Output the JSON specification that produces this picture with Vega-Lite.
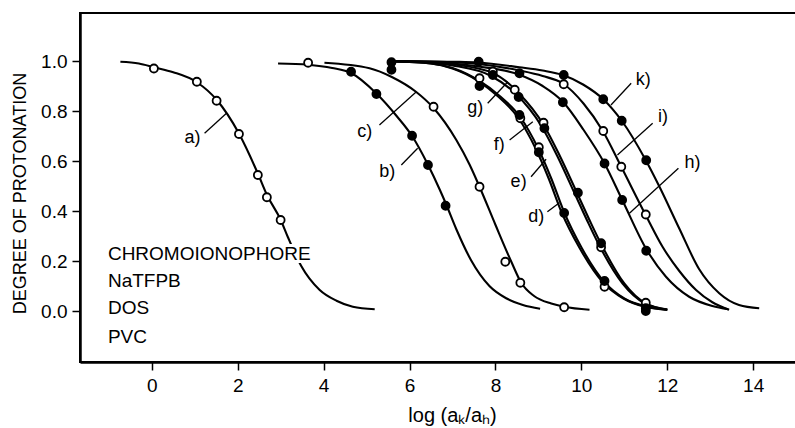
{
  "$schema": "https://vega.github.io/schema/vega-lite/v6.json",
  "width": 717,
  "height": 349,
  "autosize": {"type": "none"},
  "padding": {"left": 80, "top": 13, "right": 0, "bottom": 66},
  "background": "white",
  "config": {
    "view": {"stroke": "black", "strokeWidth": 2},
    "axis": {
      "grid": false,
      "domainColor": "black",
      "domainWidth": 2.5,
      "tickColor": "black",
      "tickWidth": 1.5,
      "tickSize": 8,
      "labelFont": "Liberation Sans",
      "labelFontSize": 19,
      "labelColor": "black",
      "titleFont": "Liberation Sans",
      "titleFontSize": 20,
      "titleFontWeight": "normal",
      "titleColor": "black"
    }
  },
  "datasets": {
    "curves": [
      {"curve": "a", "x": -0.73, "y": 0.997}, {"curve": "a", "x": -0.3, "y": 0.99}, {"curve": "a", "x": 0.05, "y": 0.975}, {"curve": "a", "x": 0.5, "y": 0.955}, {"curve": "a", "x": 1.05, "y": 0.915}, {"curve": "a", "x": 1.51, "y": 0.845}, {"curve": "a", "x": 2.03, "y": 0.71}, {"curve": "a", "x": 2.47, "y": 0.55}, {"curve": "a", "x": 2.68, "y": 0.465}, {"curve": "a", "x": 3.0, "y": 0.365}, {"curve": "a", "x": 3.17, "y": 0.295}, {"curve": "a", "x": 3.48, "y": 0.18}, {"curve": "a", "x": 3.91, "y": 0.084}, {"curve": "a", "x": 4.3, "y": 0.041}, {"curve": "a", "x": 4.68, "y": 0.017}, {"curve": "a", "x": 5.19, "y": 0.007},
      {"curve": "b", "x": 2.94, "y": 0.99}, {"curve": "b", "x": 3.64, "y": 0.985}, {"curve": "b", "x": 4.2, "y": 0.972}, {"curve": "b", "x": 4.64, "y": 0.952}, {"curve": "b", "x": 5.23, "y": 0.87}, {"curve": "b", "x": 5.7, "y": 0.78}, {"curve": "b", "x": 6.06, "y": 0.7}, {"curve": "b", "x": 6.43, "y": 0.585}, {"curve": "b", "x": 6.7, "y": 0.487}, {"curve": "b", "x": 6.85, "y": 0.428}, {"curve": "b", "x": 7.09, "y": 0.327}, {"curve": "b", "x": 7.43, "y": 0.204}, {"curve": "b", "x": 7.86, "y": 0.1}, {"curve": "b", "x": 8.25, "y": 0.051}, {"curve": "b", "x": 8.64, "y": 0.024}, {"curve": "b", "x": 9.04, "y": 0.009},
      {"curve": "c", "x": 4.02, "y": 0.993}, {"curve": "c", "x": 5.07, "y": 0.971}, {"curve": "c", "x": 5.6, "y": 0.935}, {"curve": "c", "x": 6.15, "y": 0.877}, {"curve": "c", "x": 6.56, "y": 0.812}, {"curve": "c", "x": 7.09, "y": 0.684}, {"curve": "c", "x": 7.4, "y": 0.585}, {"curve": "c", "x": 7.63, "y": 0.497}, {"curve": "c", "x": 8.0, "y": 0.345}, {"curve": "c", "x": 8.37, "y": 0.197}, {"curve": "c", "x": 8.6, "y": 0.113}, {"curve": "c", "x": 8.9, "y": 0.06}, {"curve": "c", "x": 9.3, "y": 0.03}, {"curve": "c", "x": 9.6, "y": 0.017}, {"curve": "c", "x": 10.19, "y": 0.005},
      {"curve": "d", "x": 5.6, "y": 0.998}, {"curve": "d", "x": 6.5, "y": 0.99}, {"curve": "d", "x": 7.0, "y": 0.972}, {"curve": "d", "x": 7.63, "y": 0.92}, {"curve": "d", "x": 8.1, "y": 0.86}, {"curve": "d", "x": 8.56, "y": 0.78}, {"curve": "d", "x": 9.01, "y": 0.645}, {"curve": "d", "x": 9.3, "y": 0.53}, {"curve": "d", "x": 9.6, "y": 0.395}, {"curve": "d", "x": 10.0, "y": 0.255}, {"curve": "d", "x": 10.54, "y": 0.115}, {"curve": "d", "x": 11.0, "y": 0.05}, {"curve": "d", "x": 11.5, "y": 0.018}, {"curve": "d", "x": 12.0, "y": 0.005},
      {"curve": "e", "x": 5.6, "y": 0.998}, {"curve": "e", "x": 6.5, "y": 0.99}, {"curve": "e", "x": 7.0, "y": 0.97}, {"curve": "e", "x": 7.6, "y": 0.92}, {"curve": "e", "x": 8.05, "y": 0.86}, {"curve": "e", "x": 8.5, "y": 0.78}, {"curve": "e", "x": 8.95, "y": 0.645}, {"curve": "e", "x": 9.24, "y": 0.53}, {"curve": "e", "x": 9.54, "y": 0.395}, {"curve": "e", "x": 9.95, "y": 0.255}, {"curve": "e", "x": 10.5, "y": 0.115}, {"curve": "e", "x": 10.98, "y": 0.05}, {"curve": "e", "x": 11.5, "y": 0.016}, {"curve": "e", "x": 12.0, "y": 0.005},
      {"curve": "f", "x": 5.6, "y": 0.999}, {"curve": "f", "x": 6.5, "y": 0.995}, {"curve": "f", "x": 7.0, "y": 0.987}, {"curve": "f", "x": 7.94, "y": 0.952}, {"curve": "f", "x": 8.54, "y": 0.872}, {"curve": "f", "x": 9.13, "y": 0.742}, {"curve": "f", "x": 9.5, "y": 0.62}, {"curve": "f", "x": 9.9, "y": 0.472}, {"curve": "f", "x": 10.2, "y": 0.36}, {"curve": "f", "x": 10.46, "y": 0.268}, {"curve": "f", "x": 11.0, "y": 0.11}, {"curve": "f", "x": 11.5, "y": 0.03}, {"curve": "f", "x": 12.0, "y": 0.006},
      {"curve": "g", "x": 5.6, "y": 0.999}, {"curve": "g", "x": 6.5, "y": 0.993}, {"curve": "g", "x": 7.0, "y": 0.982}, {"curve": "g", "x": 7.9, "y": 0.94}, {"curve": "g", "x": 8.48, "y": 0.868}, {"curve": "g", "x": 9.07, "y": 0.74}, {"curve": "g", "x": 9.44, "y": 0.62}, {"curve": "g", "x": 9.84, "y": 0.472}, {"curve": "g", "x": 10.14, "y": 0.36}, {"curve": "g", "x": 10.4, "y": 0.268}, {"curve": "g", "x": 10.96, "y": 0.11}, {"curve": "g", "x": 11.48, "y": 0.03}, {"curve": "g", "x": 12.0, "y": 0.005},
      {"curve": "h", "x": 5.6, "y": 1.0}, {"curve": "h", "x": 7.0, "y": 0.99}, {"curve": "h", "x": 7.6, "y": 0.978}, {"curve": "h", "x": 8.56, "y": 0.945}, {"curve": "h", "x": 9.1, "y": 0.9}, {"curve": "h", "x": 9.57, "y": 0.837}, {"curve": "h", "x": 10.05, "y": 0.725}, {"curve": "h", "x": 10.54, "y": 0.59}, {"curve": "h", "x": 10.95, "y": 0.445}, {"curve": "h", "x": 11.52, "y": 0.245}, {"curve": "h", "x": 11.97, "y": 0.137}, {"curve": "h", "x": 12.51, "y": 0.057}, {"curve": "h", "x": 13.05, "y": 0.02}, {"curve": "h", "x": 13.42, "y": 0.007},
      {"curve": "i", "x": 5.6, "y": 1.0}, {"curve": "i", "x": 7.0, "y": 0.995}, {"curve": "i", "x": 7.6, "y": 0.988}, {"curve": "i", "x": 8.56, "y": 0.962}, {"curve": "i", "x": 9.1, "y": 0.94}, {"curve": "i", "x": 9.57, "y": 0.91}, {"curve": "i", "x": 10.05, "y": 0.83}, {"curve": "i", "x": 10.5, "y": 0.72}, {"curve": "i", "x": 10.92, "y": 0.58}, {"curve": "i", "x": 11.5, "y": 0.383}, {"curve": "i", "x": 11.89, "y": 0.257}, {"curve": "i", "x": 12.28, "y": 0.16}, {"curve": "i", "x": 12.67, "y": 0.084}, {"curve": "i", "x": 13.05, "y": 0.035}, {"curve": "i", "x": 13.44, "y": 0.005},
      {"curve": "k", "x": 5.6, "y": 1.0}, {"curve": "k", "x": 7.0, "y": 0.997}, {"curve": "k", "x": 7.6, "y": 0.994}, {"curve": "k", "x": 8.56, "y": 0.975}, {"curve": "k", "x": 9.1, "y": 0.962}, {"curve": "k", "x": 9.57, "y": 0.944}, {"curve": "k", "x": 10.05, "y": 0.905}, {"curve": "k", "x": 10.51, "y": 0.847}, {"curve": "k", "x": 10.94, "y": 0.761}, {"curve": "k", "x": 11.5, "y": 0.603}, {"curve": "k", "x": 11.81, "y": 0.5}, {"curve": "k", "x": 12.28, "y": 0.33}, {"curve": "k", "x": 12.74, "y": 0.168}, {"curve": "k", "x": 13.21, "y": 0.071}, {"curve": "k", "x": 13.67, "y": 0.024}, {"curve": "k", "x": 14.14, "y": 0.011}
    ],
    "points": [
      {"x": 0.05, "y": 0.97, "kind": "open"}, {"x": 1.05, "y": 0.917, "kind": "open"}, {"x": 1.51, "y": 0.841, "kind": "open"}, {"x": 2.03, "y": 0.708, "kind": "open"}, {"x": 2.47, "y": 0.544, "kind": "open"}, {"x": 2.68, "y": 0.455, "kind": "open"}, {"x": 3.0, "y": 0.364, "kind": "open"},
      {"x": 3.64, "y": 0.993, "kind": "open"},
      {"x": 4.64, "y": 0.957, "kind": "filled"}, {"x": 5.23, "y": 0.868, "kind": "filled"}, {"x": 6.06, "y": 0.701, "kind": "filled"}, {"x": 6.43, "y": 0.584, "kind": "filled"}, {"x": 6.84, "y": 0.421, "kind": "filled"},
      {"x": 6.56, "y": 0.817, "kind": "open"}, {"x": 7.63, "y": 0.497, "kind": "open"}, {"x": 8.23, "y": 0.197, "kind": "open"}, {"x": 8.58, "y": 0.113, "kind": "open"}, {"x": 9.6, "y": 0.015, "kind": "open"},
      {"x": 5.58, "y": 0.995, "kind": "filled"}, {"x": 5.58, "y": 0.965, "kind": "filled"},
      {"x": 7.63, "y": 0.931, "kind": "open"}, {"x": 7.94, "y": 0.958, "kind": "open"}, {"x": 8.45, "y": 0.885, "kind": "open"}, {"x": 8.58, "y": 0.771, "kind": "open"}, {"x": 9.12, "y": 0.753, "kind": "open"}, {"x": 9.01, "y": 0.655, "kind": "open"}, {"x": 9.59, "y": 0.907, "kind": "open"}, {"x": 10.51, "y": 0.72, "kind": "open"}, {"x": 10.93, "y": 0.577, "kind": "open"}, {"x": 11.5, "y": 0.386, "kind": "open"}, {"x": 10.46, "y": 0.255, "kind": "open"}, {"x": 10.54, "y": 0.097, "kind": "open"}, {"x": 11.5, "y": 0.033, "kind": "open"},
      {"x": 7.61, "y": 0.997, "kind": "filled"}, {"x": 7.63, "y": 0.9, "kind": "filled"}, {"x": 7.94, "y": 0.944, "kind": "filled"}, {"x": 8.56, "y": 0.951, "kind": "filled"}, {"x": 8.54, "y": 0.856, "kind": "filled"}, {"x": 8.56, "y": 0.784, "kind": "filled"}, {"x": 9.14, "y": 0.731, "kind": "filled"}, {"x": 9.01, "y": 0.635, "kind": "filled"}, {"x": 9.59, "y": 0.944, "kind": "filled"}, {"x": 9.57, "y": 0.835, "kind": "filled"}, {"x": 10.51, "y": 0.847, "kind": "filled"}, {"x": 10.94, "y": 0.761, "kind": "filled"}, {"x": 11.51, "y": 0.603, "kind": "filled"}, {"x": 10.54, "y": 0.59, "kind": "filled"}, {"x": 9.92, "y": 0.473, "kind": "filled"}, {"x": 10.95, "y": 0.444, "kind": "filled"}, {"x": 9.6, "y": 0.392, "kind": "filled"}, {"x": 10.46, "y": 0.271, "kind": "filled"}, {"x": 11.51, "y": 0.241, "kind": "filled"}, {"x": 10.54, "y": 0.12, "kind": "filled"}, {"x": 11.5, "y": 0.011, "kind": "filled"}, {"x": 11.5, "y": 0.0, "kind": "filled"}
    ],
    "leaders": [
      {"x": 1.23, "y": 0.711, "x2": 1.74, "y2": 0.791},
      {"x": 5.3, "y": 0.744, "x2": 6.16, "y2": 0.877},
      {"x": 5.81, "y": 0.584, "x2": 6.19, "y2": 0.651},
      {"x": 7.82, "y": 0.831, "x2": 8.29, "y2": 0.917},
      {"x": 8.33, "y": 0.684, "x2": 8.87, "y2": 0.757},
      {"x": 8.83, "y": 0.537, "x2": 9.18, "y2": 0.607},
      {"x": 9.21, "y": 0.397, "x2": 9.49, "y2": 0.433},
      {"x": 11.16, "y": 0.911, "x2": 10.69, "y2": 0.824},
      {"x": 11.66, "y": 0.751, "x2": 10.84, "y2": 0.624},
      {"x": 12.26, "y": 0.571, "x2": 11.12, "y2": 0.391}
    ],
    "labels": [
      {"x": 0.95, "y": 0.674, "label": "a)"},
      {"x": 5.48, "y": 0.537, "label": "b)"},
      {"x": 4.96, "y": 0.697, "label": "c)"},
      {"x": 8.95, "y": 0.357, "label": "d)"},
      {"x": 8.54, "y": 0.497, "label": "e)"},
      {"x": 8.09, "y": 0.644, "label": "f)"},
      {"x": 7.53, "y": 0.792, "label": "g)"},
      {"x": 12.59, "y": 0.571, "label": "h)"},
      {"x": 11.9, "y": 0.757, "label": "i)"},
      {"x": 11.44, "y": 0.904, "label": "k)"}
    ],
    "composition": [
      {"x": -1.02, "y": 0.204, "label": "CHROMOIONOPHORE"},
      {"x": -1.02, "y": 0.095, "label": "NaTFPB"},
      {"x": -1.02, "y": -0.013, "label": "DOS"},
      {"x": -1.02, "y": -0.129, "label": "PVC"}
    ]
  },
  "layer": [
    {
      "data": {"name": "curves"},
      "mark": {"type": "line", "color": "black", "strokeWidth": 2.1, "interpolate": "monotone"},
      "encoding": {
        "x": {
          "field": "x", "type": "quantitative",
          "scale": {"domain": [-1.67, 15.02], "nice": false, "zero": false},
          "axis": {"values": [0, 2, 4, 6, 8, 10, 12, 14], "format": "d", "labelPadding": 6, "title": "log (aₖ/aₕ)", "titleX": 372, "titleY": 59, "titleBaseline": "alphabetic", "titleAnchor": "middle"}
        },
        "y": {
          "field": "y", "type": "quantitative",
          "scale": {"domain": [-0.204, 1.192], "nice": false, "zero": false},
          "axis": {"values": [0, 0.2, 0.4, 0.6, 0.8, 1.0], "format": ".1f", "labelPadding": 5, "title": "DEGREE  OF  PROTONATION", "titleFontSize": 18, "titlePadding": 11, "titleY": 180}
        },
        "detail": {"field": "curve"}
      }
    },
    {
      "data": {"name": "leaders"},
      "mark": {"type": "rule", "color": "black", "strokeWidth": 1.3},
      "encoding": {
        "x": {"field": "x", "type": "quantitative"},
        "y": {"field": "y", "type": "quantitative"},
        "x2": {"field": "x2"},
        "y2": {"field": "y2"}
      }
    },
    {
      "data": {"name": "points"},
      "mark": {"type": "point", "shape": "circle", "filled": true, "size": 64, "stroke": "black", "strokeWidth": 1.8, "opacity": 1},
      "encoding": {
        "x": {"field": "x", "type": "quantitative"},
        "y": {"field": "y", "type": "quantitative"},
        "fill": {"field": "kind", "type": "nominal", "scale": {"domain": ["filled", "open"], "range": ["black", "white"]}, "legend": null}
      }
    },
    {
      "data": {"name": "labels"},
      "mark": {"type": "text", "font": "Liberation Sans", "fontSize": 18, "align": "center", "baseline": "alphabetic", "color": "black"},
      "encoding": {
        "x": {"field": "x", "type": "quantitative"},
        "y": {"field": "y", "type": "quantitative"},
        "text": {"field": "label"}
      }
    },
    {
      "data": {"name": "composition"},
      "mark": {"type": "text", "font": "Liberation Sans", "fontSize": 19, "align": "left", "baseline": "alphabetic", "fill": "white", "stroke": "white", "strokeWidth": 6},
      "encoding": {
        "x": {"field": "x", "type": "quantitative"},
        "y": {"field": "y", "type": "quantitative"},
        "text": {"field": "label"}
      }
    },
    {
      "data": {"name": "composition"},
      "mark": {"type": "text", "font": "Liberation Sans", "fontSize": 19, "align": "left", "baseline": "alphabetic", "color": "black"},
      "encoding": {
        "x": {"field": "x", "type": "quantitative"},
        "y": {"field": "y", "type": "quantitative"},
        "text": {"field": "label"}
      }
    }
  ]
}
